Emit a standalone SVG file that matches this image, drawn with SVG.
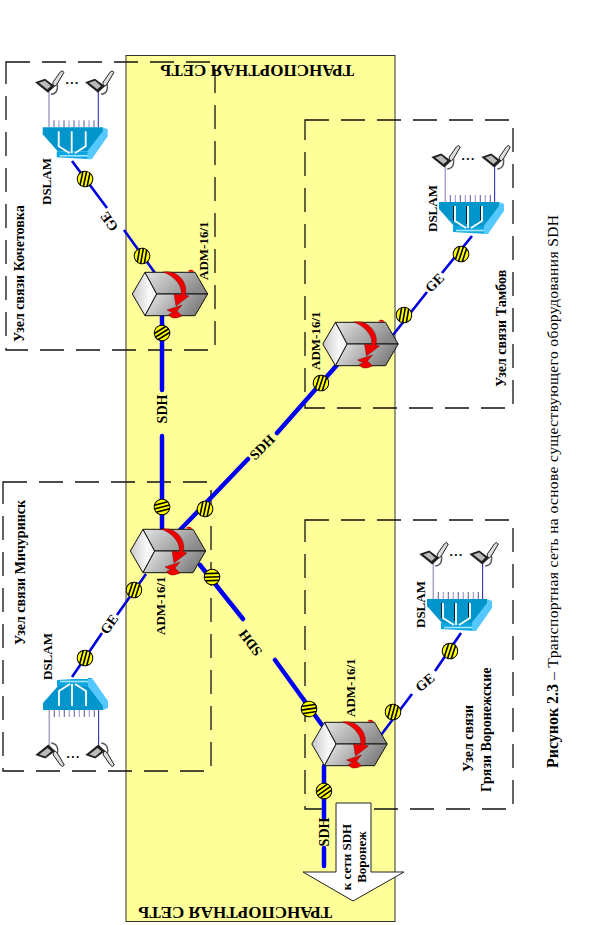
<svg xmlns="http://www.w3.org/2000/svg" xmlns:xlink="http://www.w3.org/1999/xlink" width="590" height="925" viewBox="0 0 590 925">
<style>
text{font-family:"Liberation Serif","Times New Roman",serif;fill:#000}
.b{font-weight:bold;font-size:13px}
.n{font-weight:bold;font-size:14px}
.l{font-weight:bold;font-size:14px;text-anchor:middle}
.t{font-weight:bold;font-size:17px}
.m{text-anchor:middle}
.box{fill:none;stroke:#111;stroke-width:1.3;stroke-dasharray:24 12}
.sdh{fill:none;stroke:#0000f0;stroke-width:4.5;stroke-linecap:round}
.ge{fill:none;stroke:#0000e0;stroke-width:2.6;stroke-linecap:butt}
.edge{stroke:#111;stroke-width:1;stroke-linejoin:round}
</style>
<defs>
<linearGradient id="gL" x1="0" y1="0" x2="1" y2="0"><stop offset="0" stop-color="#c8c8c8"/><stop offset="0.7" stop-color="#fafafa"/><stop offset="1" stop-color="#f0f0f0"/></linearGradient>
<linearGradient id="gT" x1="0" y1="0" x2="1" y2="0.4"><stop offset="0" stop-color="#e4e4e4"/><stop offset="1" stop-color="#8a8a8a"/></linearGradient>
<linearGradient id="gB" x1="0" y1="0" x2="1" y2="0.3"><stop offset="0" stop-color="#ececec"/><stop offset="1" stop-color="#7c7c7c"/></linearGradient>
<clipPath id="tc"><circle r="7.8"/></clipPath>
<g id="tap">
<circle r="7.8" fill="#ffff00" stroke="#000" stroke-width="1"/>
<g clip-path="url(#tc)" stroke="#000" stroke-width="1.6"><path d="M-8-3.6H8M-8 0H8M-8 3.6H8"/></g>
</g>
<g id="adm">
<polygon class="edge" points="-37.7,0 -25,-21.7 -13.3,0 -25,21.7" fill="url(#gL)"/>
<polygon class="edge" points="-25,-21.7 25,-21.7 37.7,0 -13.3,0" fill="url(#gT)"/>
<polygon class="edge" points="-13.3,0 37.7,0 25,21.7 -25,21.7" fill="url(#gB)"/>
<path d="M18-22.500C19-25 23-25 24-22Z" fill="#e00000"/>
<path d="M-7-22C9-25 19-9 15 1L19 2 6 12 4 0 11 1C13-7 6-17-7-22Z" fill="#ee0000" stroke="#600" stroke-width="0.4"/>
<path d="M-3 16L12 11 7 17 12 22C6 25 0 25-1 20L3 19Z" fill="#ee0000" stroke="#600" stroke-width="0.4"/>
</g>
<g id="pc">
<path d="M8-4L15-14Q17-17 19-14L12-2Q10 1 8-1Z" fill="#ddd" stroke="#222" stroke-width="1"/>
<path d="M6 8Q14 7 12-3" fill="none" stroke="#555" stroke-width="1.4"/>
<polygon points="-10,-4 0,-7.500 10,0 3,6.500" fill="#222"/>
<polygon points="-6,-3.500 0,-5.500 6,-0.300 2.200,3" fill="#bbb"/>
</g>
<g id="dslam">
<path d="M-23.7 0V-36" stroke="#a8a8c8" stroke-width="1.6" fill="none"/>
<path d="M25.6 0V-36" stroke="#3333aa" stroke-width="1.1" fill="none"/>
<path d="M-18.700 0V-7M-8.700 0V-7M1.300 0V-7M11.300 0V-7M21.300 0V-7" stroke="#6666aa" stroke-width="1.1"/>
<path d="M-13.700 0V-7M-3.700 0V-7M6.300 0V-7M16.300 0V-7" stroke="#9999cc" stroke-width="1.1"/>
<use xlink:href="#pc" href="#pc" x="-27.7" y="-41"/>
<use xlink:href="#pc" href="#pc" x="22.3" y="-41"/>
<polygon points="30,0 35,2 35,9 19,32 15,32 14.7,24" fill="#55c8ff"/>
<polygon points="-16,24 15,24 15,32 19,32 -16,30" fill="#0da5e0"/>
<polygon points="-30,0 30,0 30,4 14.7,24 -15,24 -30,7" fill="#0096cc"/>
<path d="M-13 28.500H15" stroke="#a0e8ff" stroke-width="1.6"/>
<path d="M-14 4V19L-3 26M-1 4V26M13 4V19L2 26" fill="none" stroke="#fff" stroke-width="1.8"/>
</g>
<path id="shadow" d="M-15.500 4V19M-2.500 4V22M11.500 4V18" fill="none" stroke="#111" stroke-width="0.9"/>
</defs>

<rect id="transport-net" x="126" y="55.5" width="269" height="866" fill="#ffff99" stroke="#333" stroke-width="1"/>

<rect class="box" x="6" y="62" width="209" height="288"/>
<rect class="box" x="305" y="120" width="208" height="288"/>
<rect class="box" x="3" y="482" width="208" height="289"/>
<rect class="box" x="305" y="520" width="208" height="289"/>

<g id="connectors">
<path class="sdh" d="M162 316V390M162 436V530"/>
<path class="sdh" d="M337 365L277 433M248 459L180 530"/>
<path class="sdh" d="M200 565L243 619M275 660L322 725"/>
<path class="sdh" d="M324 766V818M324 848V866"/>
<path class="ge" d="M72 161L107 208M124 230L155 273"/>
<path class="ge" d="M472 236L442 273M427 292L393 335"/>
<path class="ge" d="M72 677L102 633M117 615L146 574"/>
<path class="ge" d="M461 633L435 671M412 694L381 735"/>
<use href="#tap" transform="translate(85 179) rotate(-78)"/>
<use href="#tap" transform="translate(142 256) rotate(-80)"/>
<use href="#tap" transform="translate(162 333) rotate(-32)"/>
<use href="#tap" transform="translate(461 254) rotate(-72)"/>
<use href="#tap" transform="translate(404 315) rotate(-80)"/>
<use href="#tap" transform="translate(321 383) rotate(-72)"/>
<use href="#tap" transform="translate(162 507) rotate(-15)"/>
<use href="#tap" transform="translate(205 509) rotate(-78)"/>
<use href="#tap" transform="translate(212 577) rotate(-2)"/>
<use href="#tap" transform="translate(134 590) rotate(-72)"/>
<use href="#tap" transform="translate(85 658) rotate(-75)"/>
<use href="#tap" transform="translate(309 709) rotate(-8)"/>
<use href="#tap" transform="translate(393 712) rotate(-75)"/>
<use href="#tap" transform="translate(324 791) rotate(-35)"/>
<use href="#tap" transform="translate(450 651) rotate(-72)"/>
<text class="l" transform="translate(167 409) rotate(-90)">SDH</text>
<text class="l" transform="translate(265.500 450.500) rotate(-45)">SDH</text>
<text class="l" transform="translate(254 640) rotate(-127)">SDH</text>
<text class="l" transform="translate(329 832) rotate(-90)">SDH</text>
<text class="l" transform="translate(113 219) rotate(-125)">GE</text>
<text class="l" transform="translate(438 286) rotate(-45)">GE</text>
<text class="l" transform="translate(113 627) rotate(-55)">GE</text>
<text class="l" transform="translate(428 686) rotate(-40)">GE</text>
</g>

<g id="node-adm-kochetovka"><use href="#adm" x="170" y="294"/><text class="b" transform="translate(208 280) rotate(-90)">ADM-16/1</text></g>
<g id="node-adm-tambov"><use href="#adm" x="360.500" y="344"/><text class="b" transform="translate(320 370) rotate(-90)">ADM-16/1</text></g>
<g id="node-adm-michurinsk"><use href="#adm" x="168" y="551"/><text class="b" transform="translate(165 635) rotate(-90)">ADM-16/1</text></g>
<g id="node-adm-gryazi"><use href="#adm" x="349.500" y="744"/><text class="b" transform="translate(355 717) rotate(-90)">ADM-16/1</text></g>

<g id="node-dslam-kochetovka">
<use href="#dslam" x="72.700" y="127.300"/>
<text class="b m" x="72.500" y="84" letter-spacing="1.500">...</text>
<text class="b" transform="translate(51 205) rotate(-90)">DSLAM</text>
<text class="n" transform="translate(23.500 342) rotate(-90)">Узел связи Кочетовка</text>
</g>
<g id="node-dslam-tambov">
<use href="#dslam" x="469" y="202"/><use href="#shadow" x="469" y="202"/>
<text class="b m" x="468.500" y="160" letter-spacing="1.500">...</text>
<text class="b" transform="translate(437 232) rotate(-90)">DSLAM</text>
<text class="n" transform="translate(506 387) rotate(-90)">Узел связи Тамбов</text>
</g>
<g id="node-dslam-michurinsk">
<use href="#dslam" transform="translate(73 710) scale(1 -1)"/>
<text class="b m" x="73.500" y="758" letter-spacing="1.500">...</text>
<text class="b" transform="translate(51.500 680) rotate(-90)">DSLAM</text>
<text class="n" transform="translate(25 645) rotate(-90)">Узел связи Мичуринск</text>
</g>
<g id="node-dslam-gryazi">
<use href="#dslam" x="457" y="599"/><use href="#shadow" x="457" y="599"/>
<text class="b m" x="456.500" y="556" letter-spacing="1.500">...</text>
<text class="b" transform="translate(425 628) rotate(-90)">DSLAM</text>
<text class="n" transform="translate(472.500 772) rotate(-90)">Узел связи</text>
<text class="n" transform="translate(490.500 792) rotate(-90)">Грязи Воронежские</text>
</g>

<g id="node-voronezh-arrow">
<polygon points="336,803 371,803 371,872 404,872 353,901 303,872 336,872" fill="#fff" stroke="#222" stroke-width="1"/>
<text class="b m" transform="translate(351 857) rotate(-90)">к сети SDH</text>
<text class="b m" transform="translate(366 857) rotate(-90)">Воронеж</text>
</g>

<text class="t" transform="translate(354 65) rotate(180)">ТРАНСПОРТНАЯ СЕТЬ</text>
<text class="t" transform="translate(332 907) rotate(180)">ТРАНСПОРТНАЯ СЕТЬ</text>

<text transform="translate(558 768) rotate(-90)" font-size="16" font-weight="bold" textLength="84">Рисунок 2.3</text>
<text transform="translate(558 680) rotate(-90)" font-size="15.500" textLength="465">– Транспортная сеть на основе существующего оборудования SDH</text>
</svg>
